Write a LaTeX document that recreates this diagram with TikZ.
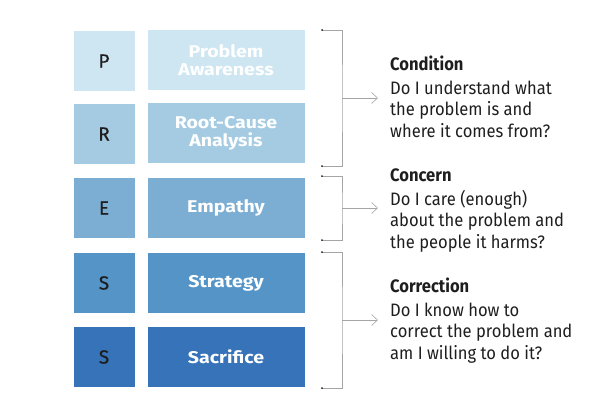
\documentclass[tikz,border=0pt]{standalone}
\usepackage{fontspec}
\setmainfont[FakeStretch=0.92]{Fira Sans}
\newfontfamily\boxfont[FakeStretch=1.15]{Fira Sans}
\newfontfamily\letterfont[FakeBold=0.6]{Fira Sans}
\usetikzlibrary{arrows.meta,positioning}
\definecolor{rowA}{RGB}{206,230,242}
\definecolor{rowB}{RGB}{165,203,226}
\definecolor{rowC}{RGB}{124,174,212}
\definecolor{rowD}{RGB}{84,148,198}
\definecolor{rowE}{RGB}{54,115,184}
\definecolor{ink}{RGB}{30,30,30}
\definecolor{rule}{RGB}{165,165,165}
\begin{document}
\begin{tikzpicture}[x=1pt,y=-1pt,
	letterbox/.style={fill=#1,draw=white,line width=0.6pt,minimum width=62pt,minimum height=61pt,inner sep=0pt,text=ink,font=\letterfont\fontsize{19}{19}\selectfont},
	namebox/.style={fill=#1,draw=white,line width=0.6pt,minimum width=158pt,minimum height=61pt,inner sep=0pt,align=center,text=white,font=\boxfont\fontsize{17}{18}\selectfont\bfseries},
	bracketline/.style={draw=rule,line width=0.6pt},
	ask/.style={anchor=north west,inner sep=0pt,align=left,text=ink,font=\fontsize{18}{21.5}\selectfont}]
	\useasboundingbox (0,0) rectangle (616,405);
	% the five rows
	\node[letterbox=rowA] (p) at (104,61) {P};
	\node[namebox=rowA] (awareness) at (226,60) {Problem\\Awareness};
	\node[letterbox=rowB] (r) at (104,134) {R};
	\node[namebox=rowB] (analysis) at (226,133) {Root-Cause\\Analysis};
	\node[letterbox=rowC] (e) at (104,208) {E};
	\node[namebox=rowC] (empathy) at (226,208) {Empathy};
	\node[letterbox=rowD] (s1) at (104,283) {S};
	\node[namebox=rowD] (strategy) at (226,283) {Strategy};
	\node[letterbox=rowE] (s2) at (104,357) {S};
	\node[namebox=rowE] (sacrifice) at (226,357) {Sacrifice};
	% brackets
	\coordinate (condTop) at (322,30);
	\coordinate (condBot) at (322,166);
	\coordinate (condMid) at (342,98);
	\coordinate (concTop) at (322,176);
	\coordinate (concBot) at (322,240);
	\coordinate (concMid) at (342,208);
	\coordinate (corrTop) at (322,252);
	\coordinate (corrBot) at (322,388);
	\coordinate (corrMid) at (342,320);
	\draw[bracketline] (condTop) -| (condMid) |- (condBot);
	\draw[bracketline] (concTop) -| (concMid) |- (concBot);
	\draw[bracketline] (corrTop) -| (corrMid) |- (corrBot);
	\foreach \c in {condTop,condBot,concTop,concBot,corrTop,corrBot}
		\fill[ink] (\c) circle (1pt);
	% questions
	\node[ask] (condition) at (390,56) {\textbf{Condition}\\[2pt]Do I understand what\\the problem is and\\where it comes from?};
	\node[ask] (concern) at (390,169) {\textbf{Concern}\\[2pt]Do I care (enough)\\about the problem and\\the people it harms?};
	\node[ask] (correction) at (390,278) {\textbf{Correction}\\[2pt]Do I know how to\\correct the problem and\\am I willing to do it?};
	\draw[bracketline,-{Straight Barb[length=6pt,width=11pt]},shorten >=12pt] (condMid) -- (condMid -| condition.west);
	\draw[bracketline,-{Straight Barb[length=6pt,width=11pt]},shorten >=12pt] (concMid) -- (concMid -| concern.west);
	\draw[bracketline,-{Straight Barb[length=6pt,width=11pt]},shorten >=12pt] (corrMid) -- (corrMid -| correction.west);
\end{tikzpicture}
\end{document}
